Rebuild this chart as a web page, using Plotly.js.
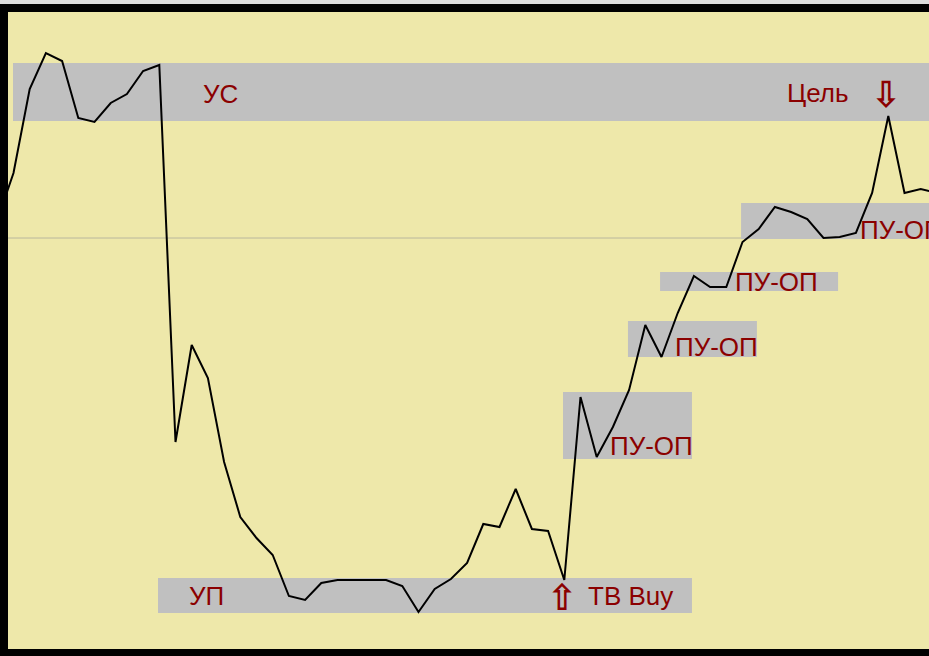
<!DOCTYPE html>
<html>
<head>
<meta charset="utf-8">
<script src="https://cdn.plot.ly/plotly-3.0.1.min.js"></script>
<style>html,body{margin:0;padding:0;background:#000;overflow:hidden}#chart{width:929px;height:656px}</style>
</head>
<body>
<div id="chart"></div>
<script>
// Bar index (time) and price series
const barIndex = [-1,0,1,2,3,4,5,6,7,8,9,10,11,12,13,14,15,16,17,18,19,20,21,22,23,24,25,26,27,28,29,30,31,32,33,34,35,36,37,38,39,40,41,42,43,44,45,46,47,48,49,50,51,52,53,54,55,56,57];
const price = [430,477,561,597,589,532,528,547,556,579,585,208,305,272,188,133,112,95,54,50,67,70,70,70,70,64,38,61,71,87,126,123,161,121,119,70,253,193,223,260,325,293,337,374,363,363,408,421,443,438,431,412,413,417,457,534,457,461,457];

// Zones (gray bands): start/end bar, low/high price, label
const zoneNames = ["УС","УП","ПУ-ОП 1","ПУ-ОП 2","ПУ-ОП 3","ПУ-ОП 4"];
const zoneStart = [-0.03, 8.92, 33.92, 37.93, 39.91, 44.91];
const zoneEnd   = [60, 41.88, 41.88, 45.89, 50.9, 60];
const zoneLow   = [529, 37, 191, 293, 359, 411];
const zoneHigh  = [587, 72, 258, 329, 378, 447];
const refLevel = 412;

// Axis ranges
const xRange = [-0.3395, 56.512];
const yRange = [1, 638];

// pixel helpers for text placement (plot area: x 8..929, y 12..649)
const L = 8, T = 12, W = 921, H = 637;
const PX = px => xRange[0] + (px - L) / W * (xRange[1] - xRange[0]);
const PY = py => yRange[1] - (py - T) / H * (yRange[1] - yRange[0]);

const red = '#8b0000';
const txtFont = {family: 'Arial, "Liberation Sans", sans-serif', size: 26, color: red};
const arrFont = {family: '"DejaVu Sans", sans-serif', size: 36, color: red, weight: 'bold'};

function ann(text, px, py, font, anchor) {
  return {text: text, x: PX(px), y: PY(py), xref: 'x', yref: 'y', xanchor: anchor || 'left', yanchor: 'middle',
          showarrow: false, font: font || txtFont};
}

const shapes = [];
// top light strip over black frame
shapes.push({type: 'rect', xref: 'paper', yref: 'paper', x0: -0.02, x1: 1.02, y0: 1 + 8/637, y1: 1 + 13/637,
             fillcolor: '#dcdcdc', line: {width: 0}, layer: 'below'});
// reference horizontal line
shapes.push({type: 'line', xref: 'paper', yref: 'y', x0: 0, x1: 1, y0: refLevel, y1: refLevel,
             line: {color: 'rgba(150,150,150,0.6)', width: 1}, layer: 'below'});
for (let k = 0; k < zoneNames.length; k++) {
  shapes.push({type: 'rect', xref: 'x', yref: 'y', x0: zoneStart[k], x1: zoneEnd[k], y0: zoneLow[k], y1: zoneHigh[k],
               fillcolor: '#c0c0c0', line: {width: 0}, layer: 'below'});
}

const annotations = [
  ann('УС', 201, 94),
  ann('УП', 187, 596),
  ann('⇧', 562, 597, arrFont, 'center'),
  ann('TB Buy', 586, 596),
  ann('ПУ-ОП', 608, 446),
  ann('ПУ-ОП', 673, 347),
  ann('ПУ-ОП', 733, 282),
  ann('ПУ-ОП', 858, 230),
  ann('Цель', 785, 93),
  ann('⇩', 886, 94, arrFont, 'center')
];

const trace = {x: barIndex, y: price, type: 'scatter', mode: 'lines',
               line: {color: '#000', width: 2}, hoverinfo: 'skip', cliponaxis: true};

const layout = {
  width: 929, height: 656,
  margin: {l: 8, r: 0, t: 12, b: 7, pad: 0},
  paper_bgcolor: '#000',
  plot_bgcolor: '#eee8aa',
  showlegend: false,
  xaxis: {range: xRange, visible: false, showgrid: false, zeroline: false, fixedrange: true},
  yaxis: {range: yRange, visible: false, showgrid: false, zeroline: false, fixedrange: true},
  shapes: shapes,
  annotations: annotations
};

Plotly.newPlot('chart', [trace], layout, {displayModeBar: false, staticPlot: true});
</script>
</body>
</html>
